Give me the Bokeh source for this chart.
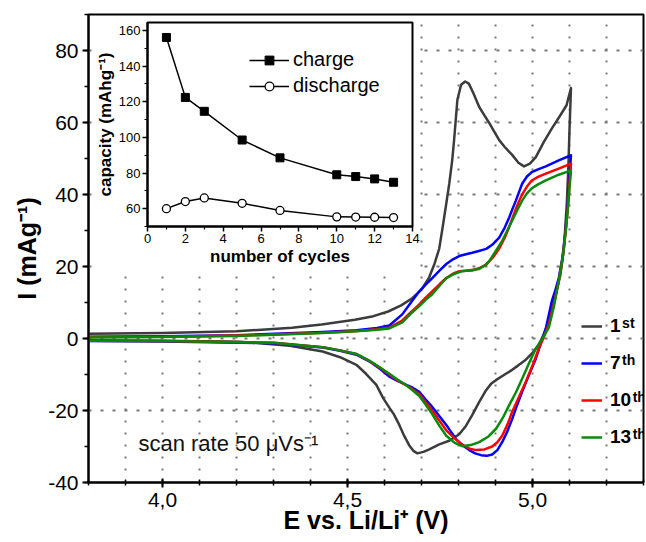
from bokeh.plotting import figure
from bokeh.models import (FixedTicker, Legend, LegendItem, Label, GridBox, Range1d)
from bokeh.embed import file_html
from bokeh.resources import INLINE

# ---------------- data ----------------
# cycle 1 (dark grey)
E1_UP = [3.80, 4.00, 4.20, 4.35, 4.43, 4.52, 4.57, 4.61, 4.645, 4.675, 4.70, 4.72, 4.735, 4.748,
         4.757, 4.767, 4.775, 4.783, 4.788, 4.797, 4.807, 4.818, 4.828, 4.840, 4.856, 4.870, 4.883,
         4.897, 4.910, 4.925, 4.945, 4.962, 4.977, 4.993, 5.009, 5.030, 5.052, 5.077, 5.092, 5.104]
I1_UP = [1.3, 1.5, 2.0, 3.0, 3.9, 5.2, 6.2, 7.5, 9.2, 11.2, 13.6, 16.8, 20.7, 25.0,
         30.8, 37.5, 43.0, 49.5, 55.0, 66.3, 70.5, 71.4, 70.8, 68.2, 64.3, 62.0, 59.9,
         57.4, 55.1, 53.2, 51.0, 48.8, 47.8, 48.6, 50.4, 54.5, 58.3, 62.3, 64.8, 69.6]
E1_DOWN = [5.104, 5.100, 5.097, 5.093, 5.085, 5.075, 5.063, 5.044, 5.030, 5.017, 5.000, 4.982,
           4.960, 4.945, 4.925, 4.902, 4.888, 4.875, 4.855, 4.837, 4.820, 4.802, 4.775, 4.748,
           4.721, 4.705, 4.689, 4.678, 4.667, 4.653, 4.640, 4.625, 4.613, 4.596, 4.578, 4.550,
           4.524, 4.480, 4.433, 4.344, 4.210, 4.00, 3.80]
I1_DOWN = [69.6, 58.0, 48.0, 38.0, 25.0, 17.5, 12.3, 4.8, 1.0, -1.7, -4.0, -5.9,
           -7.6, -8.7, -10.0, -11.5, -12.6, -14.3, -17.8, -21.3, -24.3, -26.6, -28.4, -29.4,
           -30.8, -31.5, -31.9, -31.2, -29.7, -27.0, -24.0, -21.0, -19.2, -16.5, -12.9, -9.8,
           -7.3, -5.2, -3.6, -2.0, -0.9, -0.6, -0.5]

# cycle 7 (blue)
E7_UP = [3.80, 4.00, 4.20, 4.433, 4.524, 4.58, 4.613, 4.648, 4.67, 4.694, 4.712, 4.729, 4.75,
         4.767, 4.785, 4.802, 4.82, 4.837, 4.855, 4.875, 4.893, 4.910, 4.925, 4.937, 4.946,
         4.955, 4.964, 4.972, 4.985, 4.998, 5.015, 5.036, 5.071, 5.104]
I7_UP = [0.5, 0.6, 0.9, 1.8, 2.3, 2.9, 3.6, 6.7, 9.8, 13.1, 15.0, 16.8, 19.0,
         20.7, 22.0, 22.9, 23.4, 23.8, 24.3, 24.9, 26.2, 28.0, 30.8, 33.6, 36.0,
         38.3, 40.8, 43.0, 45.0, 46.2, 47.0, 47.8, 49.5, 50.9]
E7_DOWN = [5.104, 5.100, 5.096, 5.090, 5.081, 5.071, 5.062, 5.052, 5.036, 5.022, 5.009, 4.990,
           4.972, 4.958, 4.945, 4.932, 4.918, 4.905, 4.891, 4.876, 4.861, 4.845, 4.829, 4.812,
           4.794, 4.780, 4.767, 4.748, 4.729, 4.710, 4.694, 4.675, 4.659, 4.635, 4.613, 4.590,
           4.560, 4.524, 4.480, 4.433, 4.30, 4.00, 3.80]
I7_DOWN = [50.9, 45.0, 38.0, 30.8, 22.5, 16.8, 13.5, 10.3, 2.8, -1.5, -5.6, -10.2,
           -14.8, -18.6, -22.4, -25.8, -28.8, -31.0, -32.2, -32.6, -32.4, -31.9, -31.0, -29.7,
           -28.0, -26.0, -24.0, -21.5, -19.0, -16.8, -14.8, -13.6, -12.9, -11.8, -10.6, -8.6,
           -6.4, -4.5, -3.4, -2.5, -1.3, -0.8, -0.7]

# cycle 10 (red)
E10_UP = [3.80, 4.00, 4.20, 4.433, 4.524, 4.58, 4.613, 4.648, 4.67, 4.694, 4.712, 4.729, 4.75,
          4.767, 4.785, 4.802, 4.82, 4.837, 4.855, 4.875, 4.893, 4.910, 4.925, 4.937, 4.946,
          4.955, 4.964, 4.972, 4.985, 4.998, 5.015, 5.036, 5.071, 5.104]
I10_UP = [0.4, 0.5, 0.8, 1.6, 2.1, 2.6, 3.0, 5.0, 7.2, 9.5, 11.4, 13.1, 15.2,
          16.8, 18.0, 18.7, 18.8, 18.9, 19.5, 20.5, 22.5, 25.0, 28.0, 31.0, 33.5,
          36.0, 38.2, 40.0, 42.2, 43.9, 44.9, 45.8, 47.2, 48.6]
E10_DOWN = [5.104, 5.100, 5.096, 5.090, 5.081, 5.071, 5.058, 5.044, 5.030, 5.017, 5.000, 4.982,
            4.963, 4.945, 4.932, 4.918, 4.905, 4.891, 4.870, 4.848, 4.830, 4.810, 4.790, 4.767,
            4.748, 4.729, 4.710, 4.694, 4.675, 4.659, 4.635, 4.613, 4.590, 4.560, 4.524, 4.480,
            4.433, 4.30, 4.00, 3.80]
I10_DOWN = [48.6, 43.0, 37.0, 30.0, 22.0, 16.0, 9.5, 4.0, 0.2, -2.8, -7.5, -12.0,
            -16.3, -20.4, -24.0, -27.0, -28.8, -30.0, -30.8, -31.0, -30.6, -29.5, -27.8, -25.5,
            -22.8, -20.0, -17.6, -15.5, -14.0, -13.0, -11.6, -10.0, -8.3, -6.3, -4.3, -3.3,
            -2.4, -1.2, -0.7, -0.6]

# cycle 13 (green)
E13_UP = [3.80, 4.00, 4.20, 4.433, 4.524, 4.58, 4.613, 4.648, 4.67, 4.694, 4.712, 4.729, 4.75,
          4.767, 4.79, 4.81, 4.835, 4.856, 4.870, 4.883, 4.90, 4.918, 4.932, 4.945, 4.958,
          4.972, 4.985, 4.998, 5.015, 5.036, 5.071, 5.104]
I13_UP = [0.3, 0.4, 0.7, 1.5, 2.0, 2.4, 2.8, 4.5, 6.8, 9.0, 10.8, 12.3, 14.8,
          16.8, 18.0, 18.7, 19.0, 19.3, 20.2, 21.5, 24.2, 27.1, 30.0, 32.7, 35.5,
          38.3, 40.3, 41.7, 42.8, 43.9, 45.5, 46.7]
E13_DOWN = [5.104, 5.100, 5.096, 5.090, 5.081, 5.071, 5.058, 5.044, 5.026, 5.009, 4.990, 4.972,
            4.955, 4.937, 4.920, 4.902, 4.880, 4.856, 4.833, 4.810, 4.790, 4.767, 4.748, 4.729,
            4.710, 4.694, 4.675, 4.659, 4.635, 4.613, 4.590, 4.560, 4.524, 4.480, 4.433, 4.30,
            4.00, 3.80]
I13_DOWN = [46.7, 42.0, 36.5, 30.0, 22.0, 16.0, 9.0, 3.0, -0.2, -2.8, -7.0, -11.2,
            -15.0, -18.5, -22.0, -25.0, -27.3, -28.8, -29.6, -29.9, -29.0, -27.0, -24.2, -21.0,
            -18.2, -16.0, -14.3, -13.0, -11.4, -9.8, -8.2, -6.2, -4.3, -3.3, -2.4, -1.2,
            -0.7, -0.6]

SERIES_COLORS = ["#3c3c3c", "#0000ff", "#ff0000", "#0a8a0a"]
LEGEND_NUMS = ["1", "7", "10", "13"]
LEGEND_SUPS = ["st", "th", "th", "th"]

XTICKS = [4.0, 4.5, 5.0]
XTICK_LABELS = ["4,0", "4,5", "5,0"]
XMINOR = [3.8, 3.9, 4.0, 4.1, 4.2, 4.3, 4.4, 4.5, 4.6, 4.7, 4.8, 4.9, 5.0, 5.1, 5.2, 5.3]
XGRID = [3.9, 4.0, 4.1, 4.2, 4.3, 4.4, 4.5, 4.6, 4.7, 4.8, 4.9, 5.0, 5.1, 5.2]
YTICKS = [-40, -20, 0, 20, 40, 60, 80]
YTICK_LABELS = ["-40", "-20", "0", "20", "40", "60", "80"]
YMINOR = [-40, -30, -20, -10, 0, 10, 20, 30, 40, 50, 60, 70, 80, 90]
YGRID = [-20, 0, 20, 40, 60, 80]

# inset
CYCLES = [1, 2, 3, 5, 7, 10, 11, 12, 13]
CHARGE = [156.0, 122.4, 114.6, 98.5, 88.5, 79.0, 78.0, 76.7, 74.8]
DISCHARGE = [60.0, 64.0, 66.0, 63.0, 59.0, 55.4, 55.3, 55.2, 55.0]
INSET_XTICKS = [0, 2, 4, 6, 8, 10, 12, 14]
INSET_XMINOR = [1, 3, 5, 7, 9, 11, 13]
INSET_YTICKS = [60, 80, 100, 120, 140, 160]
INSET_YMINOR = [50, 70, 90, 110, 130, 150]

FONT = "Liberation Sans"

# ---------------- main figure ----------------
W, H = 645, 541
BL, BR, BT, BB = 88, 2, 14, 59
FRAME_W = W - BL - BR
FRAME_H = H - BT - BB
X0, X1, Y0, Y1 = 3.8, 5.3, -40, 90

p = figure(width=W, height=H, x_range=Range1d(X0, X1), y_range=Range1d(Y0, Y1),
           output_backend="svg", toolbar_location=None,
           min_border_left=BL, min_border_right=BR, min_border_top=BT, min_border_bottom=BB)
p.outline_line_color = "black"
p.outline_line_width = 2
p.background_fill_color = "white"
p.border_fill_color = "white"

for ax in (p.xaxis[0], p.yaxis[0]):
    ax.axis_line_width = 2
    ax.major_tick_line_width = 2
    ax.minor_tick_line_width = 1.5
    ax.major_label_text_font = FONT
    ax.major_label_text_font_size = "21px"
    ax.major_label_text_color = "black"
    ax.axis_label_text_font = FONT
    ax.axis_label_text_font_size = "25px"
    ax.axis_label_text_font_style = "bold"
    ax.axis_label_text_color = "black"

p.xaxis.ticker = FixedTicker(ticks=XTICKS, minor_ticks=XMINOR)
p.xaxis.major_label_overrides = dict(zip(XTICKS, XTICK_LABELS))
p.xaxis.major_tick_in = 4
p.xaxis.major_tick_out = 5
p.xaxis.minor_tick_in = 3
p.xaxis.minor_tick_out = 3
p.xaxis.major_label_standoff = 5
p.xaxis.axis_label = "E vs. Li/Li\u207a (V)"
p.xaxis.axis_label_standoff = -4

p.yaxis.ticker = FixedTicker(ticks=YTICKS, minor_ticks=YMINOR)
p.yaxis.major_label_overrides = dict(zip(YTICKS, YTICK_LABELS))
p.yaxis.major_tick_in = 0
p.yaxis.major_tick_out = 6
p.yaxis.minor_tick_in = 0
p.yaxis.minor_tick_out = 4
p.yaxis.major_label_standoff = 4
p.yaxis.axis_label = "I (mAg\u207b\u00b9)"
p.yaxis.axis_label_standoff = 4

p.xgrid.ticker = FixedTicker(ticks=XGRID)
p.xgrid.grid_line_color = "#7a7a7a"
p.xgrid.grid_line_dash = "2 10"
p.xgrid.grid_line_width = 2
p.ygrid.ticker = FixedTicker(ticks=YGRID)
p.ygrid.grid_line_color = "#7a7a7a"
p.ygrid.grid_line_dash = "3 9"
p.ygrid.grid_line_width = 2

curves = [(E1_UP + E1_DOWN, I1_UP + I1_DOWN),
          (E7_UP + E7_DOWN, I7_UP + I7_DOWN),
          (E10_UP + E10_DOWN, I10_UP + I10_DOWN),
          (E13_UP + E13_DOWN, I13_UP + I13_DOWN)]
renderers = []
for (ex, iy), col in zip(curves, SERIES_COLORS):
    r = p.line(ex, iy, line_color=col, line_width=2.5, line_join="round")
    renderers.append(r)

# legend (screen position relative to the frame, bottom-left origin)
LEG_X, LEG_Y = 493, 34
GLYPH_W, ROW_H, SPACING, STANDOFF = 21, 22, 15, 8
leg = Legend(items=[LegendItem(label=n, renderers=[r]) for n, r in zip(LEGEND_NUMS, renderers)],
             location=(LEG_X, LEG_Y), orientation="vertical",
             glyph_width=GLYPH_W, glyph_height=ROW_H, label_height=ROW_H, spacing=SPACING,
             padding=0, margin=0, label_standoff=STANDOFF,
             border_line_color=None, background_fill_alpha=0,
             label_text_font=FONT, label_text_font_size="19px", label_text_font_style="bold",
             label_text_color="black")
p.add_layout(leg)

# superscripts next to the legend numbers
px_per_E = FRAME_W / (X1 - X0)
px_per_I = FRAME_H / (Y1 - Y0)
n_items = len(LEGEND_NUMS)
leg_h = n_items * ROW_H + (n_items - 1) * SPACING
leg_top_from_bottom = LEG_Y + leg_h
digit_w = 10.6
for k, (num, sup) in enumerate(zip(LEGEND_NUMS, LEGEND_SUPS)):
    row_center = leg_top_from_bottom - (k * (ROW_H + SPACING) + ROW_H / 2)
    sx = LEG_X + GLYPH_W + STANDOFF + digit_w * len(num) + 1
    sy = row_center + 4
    p.add_layout(Label(x=X0 + sx / px_per_E, y=Y0 + sy / px_per_I, text=sup,
                       text_font=FONT, text_font_size="14px", text_font_style="bold",
                       text_color="black", text_baseline="alphabetic"))

p.add_layout(Label(x=3.935, y=-29.2, text="scan rate  50 \u03bcVs\u207b\u00b9",
                   text_font=FONT, text_font_size="22px", text_color="#111111",
                   text_baseline="alphabetic"))

# ---------------- inset figure ----------------
IBL, IBR, IBT, IBB = 54, 8, 6, 40
IFW, IFH = 266, 206
IW, IH = IBL + IFW + IBR, IBT + IFH + IBB
ins = figure(width=IW, height=IH, x_range=Range1d(0, 14), y_range=Range1d(50, 164.4),
             output_backend="svg", toolbar_location=None,
             min_border_left=IBL, min_border_right=IBR, min_border_top=IBT, min_border_bottom=IBB)
ins.outline_line_color = "black"
ins.outline_line_width = 2
ins.background_fill_color = "white"
ins.border_fill_color = "white"
ins.grid.visible = False
for ax in (ins.xaxis[0], ins.yaxis[0]):
    ax.axis_line_width = 2
    ax.major_tick_line_width = 1.5
    ax.minor_tick_line_width = 1.2
    ax.major_tick_in = 0
    ax.major_tick_out = 5
    ax.minor_tick_in = 0
    ax.minor_tick_out = 3
    ax.major_label_text_font = FONT
    ax.major_label_text_font_size = "13px"
    ax.major_label_text_color = "black"
    ax.major_label_standoff = 2
    ax.axis_label_text_font = FONT
    ax.axis_label_text_font_size = "17px"
    ax.axis_label_text_font_style = "bold"
    ax.axis_label_text_color = "black"
    ax.axis_label_standoff = 1
ins.xaxis.ticker = FixedTicker(ticks=INSET_XTICKS, minor_ticks=INSET_XMINOR)
ins.yaxis.ticker = FixedTicker(ticks=INSET_YTICKS, minor_ticks=INSET_YMINOR)
ins.xaxis.axis_label = "number of cycles"
ins.yaxis.axis_label = "capacity (mAhg\u207b\u00b9)"

lc = ins.line(CYCLES, CHARGE, line_color="black", line_width=1.5)
sc = ins.scatter(CYCLES, CHARGE, marker="square", size=8, fill_color="black", line_color="black")
ld = ins.line(CYCLES, DISCHARGE, line_color="black", line_width=1.5)
sd = ins.scatter(CYCLES, DISCHARGE, marker="circle", size=8, fill_color="white",
                 line_color="black", line_width=1.3)
ileg = Legend(items=[LegendItem(label="charge", renderers=[lc, sc]),
                     LegendItem(label="discharge", renderers=[ld, sd])],
              location=(102, 129), orientation="vertical",
              glyph_width=40, glyph_height=22, label_height=22, spacing=3,
              padding=0, margin=0, label_standoff=4,
              border_line_color=None, background_fill_alpha=0,
              label_text_font=FONT, label_text_font_size="20px", label_text_color="black")
ins.add_layout(ileg)

grid = GridBox(children=[(p, 0, 0, 3, 3), (ins, 1, 1)],
               rows=["16px", "%dpx" % IH, "%dpx" % (H - 16 - IH)],
               cols=["92px", "%dpx" % IW, "%dpx" % (W - 92 - IW)])

open("out.html", "w").write(file_html(grid, INLINE))
